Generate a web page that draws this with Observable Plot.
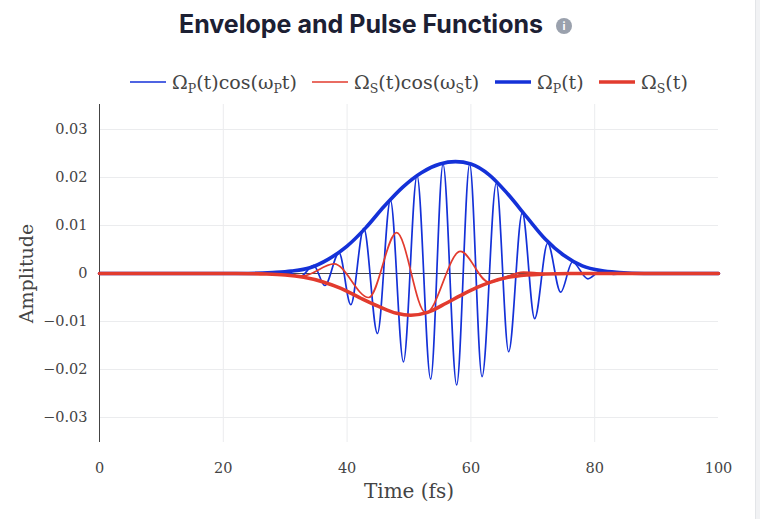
<!DOCTYPE html>
<html>
<head>
<meta charset="utf-8">
<script src="https://cdn.jsdelivr.net/npm/d3@7"></script>
<script src="https://cdn.jsdelivr.net/npm/@observablehq/plot@0.6"></script>
<style>
  html, body { margin: 0; padding: 0; }
  body { width: 760px; height: 519px; background: #f1f2f4; overflow: hidden; position: relative; font-family: "DejaVu Serif", serif; }
  #card { position: absolute; left: -12px; top: -12px; width: 766px; height: 560px; background: #fff; border: 1px solid #e3e5e8; border-radius: 12px; }
  #title { position: absolute; left: 179px; top: 9px; font: 700 25px Inter, sans-serif; color: #1c2033; white-space: nowrap; letter-spacing: 0px; }
  #info { display: inline-block; width: 16px; height: 16px; border-radius: 50%; background: #9aa1ad; color: #fff; font: 700 11px Inter, sans-serif; text-align: center; line-height: 16px; vertical-align: 3px; margin-left: 13px; }
  .leg { position: absolute; top: 70px; height: 24px; display: flex; align-items: center; font: 19px "DejaVu Serif", serif; color: #444; white-space: nowrap; }
  .leg svg { margin-right: 6px; }
  .leg sub { font-size: 0.66em; vertical-align: -0.3em; line-height: 0; }
  #chart { position: absolute; left: 0; top: 100px; }
</style>
</head>
<body>
<div id="card"></div>
<div id="title">Envelope and Pulse Functions<span id="info">i</span></div>
<div id="legend"></div>
<div id="chart"></div>
<script>
// Time axis ticks
const xTicks = [0, 20, 40, 60, 80, 100];
const yTicks = [-0.03, -0.02, -0.01, 0, 0.01, 0.02, 0.03];

// Pump pulse Ω_P(t)cos(ω_P t): read extrema (t in fs, amplitude)
const pumpT = [0, 28, 30.3, 32.4, 34.6, 36.4, 38.7, 40.6, 42.7, 44.9, 47.0, 49.1, 51.3, 53.5, 55.5, 57.7, 59.8, 61.8, 64.1, 66.1, 68.3, 70.3, 72.4, 74.5, 76.4, 78.9, 81.0, 83.0, 86, 100];
const pumpV = [0, 0, 0.0003, -0.0007, 0.0017, -0.0025, 0.0043, -0.0065, 0.0094, -0.0125, 0.0153, -0.0184, 0.0204, -0.0220, 0.0228, -0.0232, 0.0228, -0.0215, 0.0188, -0.0163, 0.0127, -0.0094, 0.0063, -0.0039, 0.0024, -0.0011, 0.0005, -0.0002, 0, 0];

// Stokes pulse Ω_S(t)cos(ω_S t)
const stokesT = [0, 28, 32.8, 37.9, 43.5, 48.0, 52.7, 58.3, 62.9, 68.5, 73.5, 78, 100];
const stokesV = [0, 0, -0.0005, 0.0020, -0.0050, 0.0085, -0.0082, 0.0046, -0.0018, 0.0003, -0.0001, 0, 0];

// Pump envelope Ω_P(t)
const pumpEnvT = [0, 24, 28, 31, 34, 37, 40, 43, 46, 49, 52, 55, 57.5, 60, 63, 66, 69, 72, 75, 78, 81, 84, 88, 100];
const pumpEnvV = [0, 0, 0.0002, 0.0005, 0.0012, 0.0030, 0.0057, 0.0095, 0.0140, 0.0180, 0.0210, 0.0228, 0.0233, 0.0228, 0.0205, 0.0165, 0.0118, 0.0072, 0.0038, 0.0016, 0.0006, 0.0002, 0, 0];

// Stokes envelope Ω_S(t)
const stokesEnvT = [0, 22, 27, 30, 33, 36, 39, 42, 45, 48, 50.3, 53, 56, 58.3, 61, 63.2, 66, 69, 72, 76, 100];
const stokesEnvV = [0, 0, -0.0001, -0.0003, -0.0008, -0.0017, -0.0031, -0.0050, -0.0068, -0.0083, -0.0087, -0.0081, -0.0062, -0.0046, -0.0029, -0.0018, -0.0008, -0.0003, -0.0001, 0, 0];

const BLUE = "#1431d8";
const RED = "#e23b2e";

const series = [
  {name: ["Ω", "P", "(t)cos(ω", "P", "t)"], t: pumpT, v: pumpV, color: BLUE, w: 1.7, left: 130},
  {name: ["Ω", "S", "(t)cos(ω", "S", "t)"], t: stokesT, v: stokesV, color: RED, w: 1.7, left: 312},
  {name: ["Ω", "P", "(t)"], t: pumpEnvT, v: pumpEnvV, color: BLUE, w: 3.6, left: 495},
  {name: ["Ω", "S", "(t)"], t: stokesEnvT, v: stokesEnvV, color: RED, w: 3.6, left: 599}
];

// Legend
const legend = document.getElementById("legend");
for (const s of series) {
  const d = document.createElement("div");
  d.className = "leg";
  d.style.left = s.left + "px";
  const label = s.name.map((p, i) => i % 2 === 1 ? `<sub>${p}</sub>` : p).join("");
  d.innerHTML = `<svg width="36" height="10"><line x1="0" x2="36" y1="5" y2="5" stroke="${s.color}" stroke-width="${s.w}"/></svg><span>${label}</span>`;
  legend.appendChild(d);
}

const toRows = (s) => s.t.map((t, i) => ({t, v: s.v[i]}));

const chart = Plot.plot({
  width: 760,
  height: 419,
  marginLeft: 99,
  marginRight: 42,
  marginTop: 4,
  marginBottom: 77,
  style: {fontFamily: "DejaVu Serif, serif", fontSize: "14.5px", color: "#444", background: "transparent"},
  x: {domain: [0, 100]},
  y: {domain: [-0.0352, 0.0352]},
  marks: [
    Plot.gridX(xTicks.filter(d => d > 0 && d < 100), {stroke: "#ebecee", strokeOpacity: 1}),
    Plot.gridY(yTicks.filter(d => d !== 0), {stroke: "#ebecee", strokeOpacity: 1}),
    Plot.ruleY([0], {stroke: "#444", strokeWidth: 1}),
    Plot.axisX(xTicks, {tickSize: 0, tickPadding: 20, label: null, fill: "#444"}),
    Plot.axisY(yTicks, {tickSize: 0, tickPadding: 12, label: null, fill: "#444",
      tickFormat: d => d === 0 ? "0" : d3.format(".2f")(d)}),
    Plot.ruleX([0], {stroke: "#444", strokeWidth: 1}),
    ...series.map(s => Plot.line(toRows(s), {x: "t", y: "v", stroke: s.color, strokeWidth: s.w, curve: "monotone-x"})),
    Plot.text(["Time (fs)"], {frameAnchor: "bottom", dy: 55, fontSize: 20, fill: "#444", textAnchor: "middle"}),
    Plot.text(["Amplitude"], {frameAnchor: "left", dx: -73, rotate: -90, fontSize: 19, fill: "#444", textAnchor: "middle"})
  ]
});
document.getElementById("chart").appendChild(chart);
</script>
</body>
</html>
